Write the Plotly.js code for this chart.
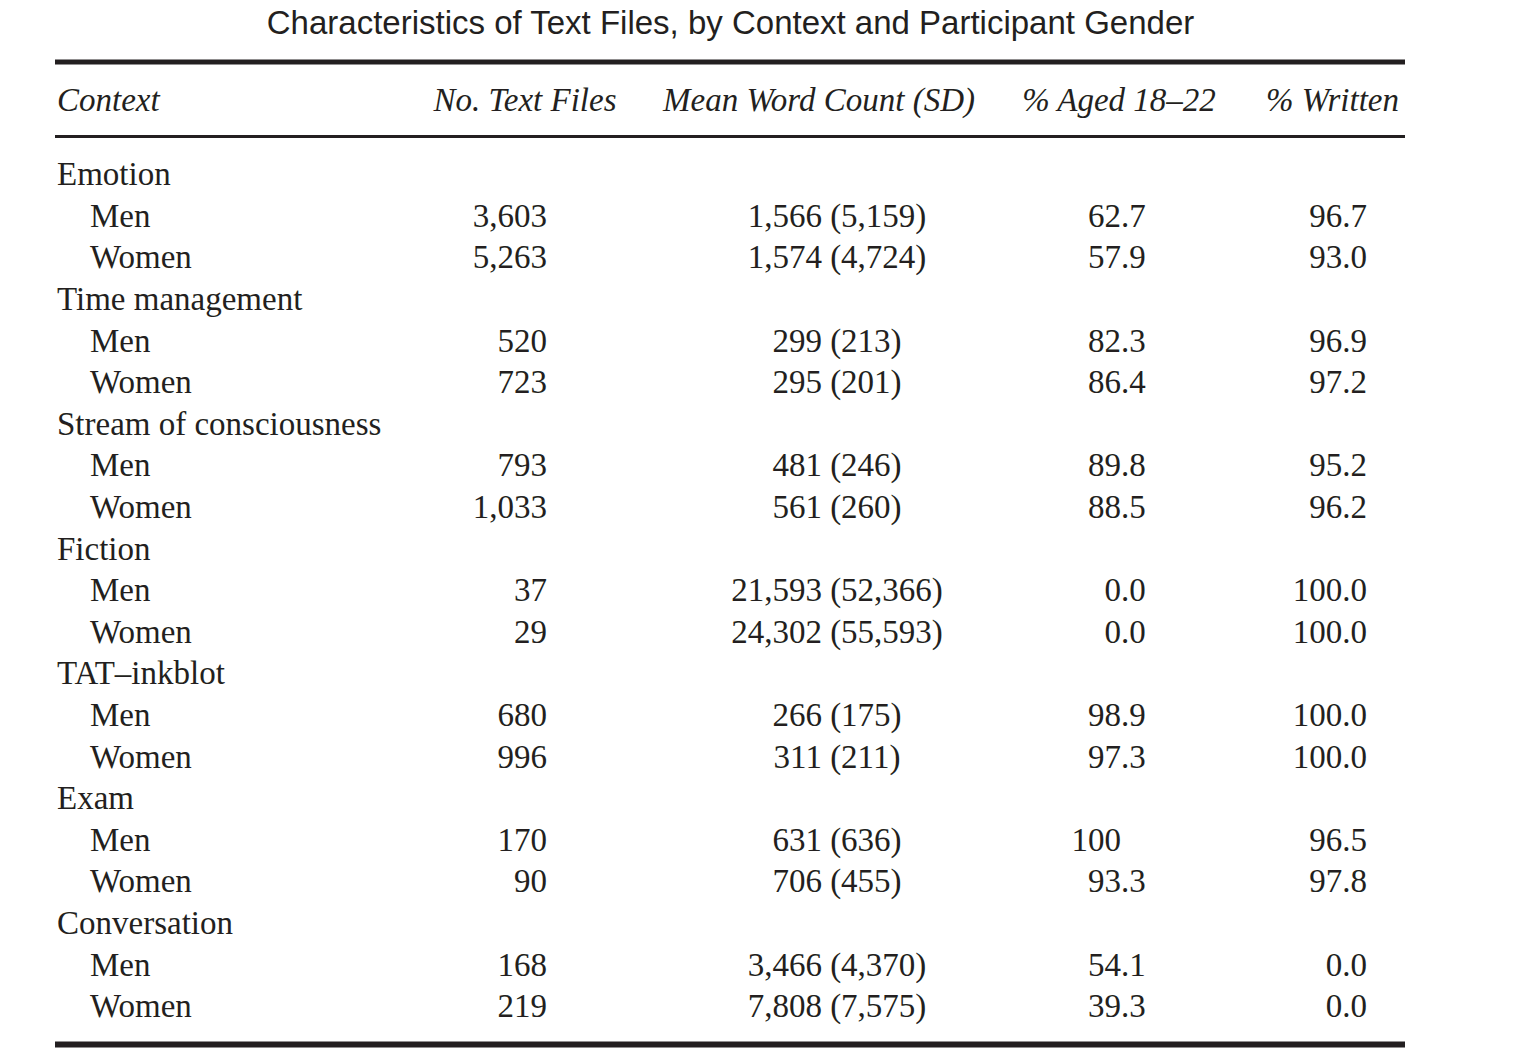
<!DOCTYPE html>
<html>
<head>
<meta charset="utf-8">
<script src="https://cdn.plot.ly/plotly-3.0.1.min.js"></script>
<style>html,body{margin:0;padding:0;background:#ffffff;}</style>
</head>
<body>
<div id="chart" style="width:1513px;height:1063px;"></div>
<script>
// ---------------- data ----------------
const titleText = "Characteristics of Text Files, by Context and Participant Gender";
const headers = ["Context", "No. Text Files", "Mean Word Count (SD)", "% Aged 18\u201322", "% Written"];
const contexts = ["Emotion", "Time management", "Stream of consciousness", "Fiction", "TAT\u2013inkblot", "Exam", "Conversation"];
const genders = ["Men", "Women"];

const filesMen   = [3603, 520, 793, 37, 680, 170, 168];
const filesWomen = [5263, 723, 1033, 29, 996, 90, 219];

const wordMeanMen   = [1566, 299, 481, 21593, 266, 631, 3466];
const wordSdMen     = [5159, 213, 246, 52366, 175, 636, 4370];
const wordMeanWomen = [1574, 295, 561, 24302, 311, 706, 7808];
const wordSdWomen   = [4724, 201, 260, 55593, 211, 455, 7575];

const agedMen   = ["62.7", "82.3", "89.8", "0.0", "98.9", "100", "54.1"];
const agedWomen = ["57.9", "86.4", "88.5", "0.0", "97.3", "93.3", "39.3"];

const writtenMen   = ["96.7", "96.9", "95.2", "100.0", "100.0", "96.5", "0.0"];
const writtenWomen = ["93.0", "97.2", "96.2", "100.0", "100.0", "97.8", "0.0"];

// ---------------- layout constants ----------------
const W = 1513, H = 1063;
const ROW0 = 177, ROWSTEP = 41.6;       // pixel position of row index 0 and row spacing
const HEADER_ROW = (102.75 - ROW0) / ROWSTEP;
const X_CONTEXT = 57, X_GENDER = 90, X_FILES = 547, X_WORD = 837, X_AGED_DEC = 1121, X_WRITTEN = 1367;
const HEADER_X = [57, 525, 819, 1119, 1332.5];
const INK = "#231f20";
const SERIF = "Liberation Serif, Times New Roman, serif";
const FS = 33;

const fmt = v => v.toLocaleString("en-US");

// ---------------- build rows ----------------
const ctxRows = [], gRows = [], gText = [], filesText = [], wordText = [],
      agedInt = [], agedFrac = [], writtenText = [];
contexts.forEach((c, k) => {
  ctxRows.push(3 * k);
  const groupsData = [
    [filesMen[k], wordMeanMen[k], wordSdMen[k], agedMen[k], writtenMen[k]],
    [filesWomen[k], wordMeanWomen[k], wordSdWomen[k], agedWomen[k], writtenWomen[k]]
  ];
  genders.forEach((g, j) => {
    const d = groupsData[j];
    gRows.push(3 * k + 1 + j);
    gText.push(g);
    filesText.push(fmt(d[0]));
    wordText.push(fmt(d[1]) + " (" + fmt(d[2]) + ")");
    const parts = d[3].split(".");
    agedInt.push(parts[0]);
    agedFrac.push(parts.length > 1 ? "." + parts[1] : "");
    writtenText.push(d[4]);
  });
});

function textTrace(xAnchor, ys, texts, pos, italic) {
  return {
    type: "scatter", mode: "text",
    x: ys.map(() => xAnchor), y: ys, text: texts,
    textposition: pos,
    textfont: {family: SERIF, size: FS, color: INK, style: italic ? "italic" : "normal"},
    hoverinfo: "skip", showlegend: false, cliponaxis: false
  };
}

const traces = [
  textTrace(X_CONTEXT, ctxRows, contexts, "middle right"),
  textTrace(X_GENDER, gRows, gText, "middle right"),
  textTrace(X_FILES, gRows, filesText, "middle left"),
  textTrace(X_WORD, gRows, wordText, "middle center"),
  textTrace(X_AGED_DEC, gRows, agedInt, "middle left"),
  textTrace(X_AGED_DEC, gRows, agedFrac, "middle right"),
  textTrace(X_WRITTEN, gRows, writtenText, "middle left"),
  // header row
  Object.assign(textTrace(0, [HEADER_ROW], [headers[0]], "middle right", true), {x: [HEADER_X[0]]}),
  Object.assign(textTrace(0, headers.slice(1).map(() => HEADER_ROW), headers.slice(1), "middle center", true),
                {x: HEADER_X.slice(1)})
];

const yTop = -ROW0 / ROWSTEP, yBottom = (H - ROW0) / ROWSTEP;

const rule = (yPix, width) => ({
  type: "line", xref: "x", yref: "paper",
  x0: 55, x1: 1405, y0: 1 - yPix / H, y1: 1 - yPix / H,
  line: {color: INK, width: width}
});

const layout = {
  width: W, height: H,
  margin: {l: 0, r: 0, t: 0, b: 0, pad: 0},
  paper_bgcolor: "#ffffff", plot_bgcolor: "#ffffff",
  showlegend: false, hovermode: false,
  title: {
    text: titleText, x: 730.5 / W, xanchor: "center", y: 1 - 22 / H, yanchor: "middle",
    xref: "paper", yref: "container",
    font: {family: "Liberation Sans, Arial, Helvetica, sans-serif", size: 33, color: INK}
  },
  xaxis: {range: [0, W], visible: false, fixedrange: true},
  yaxis: {range: [yBottom, yTop], visible: false, fixedrange: true},
  shapes: [rule(62, 5), rule(136.5, 3), rule(1044.5, 6)]
};

Plotly.newPlot("chart", traces, layout, {staticPlot: true, displayModeBar: false});
</script>
</body>
</html>
